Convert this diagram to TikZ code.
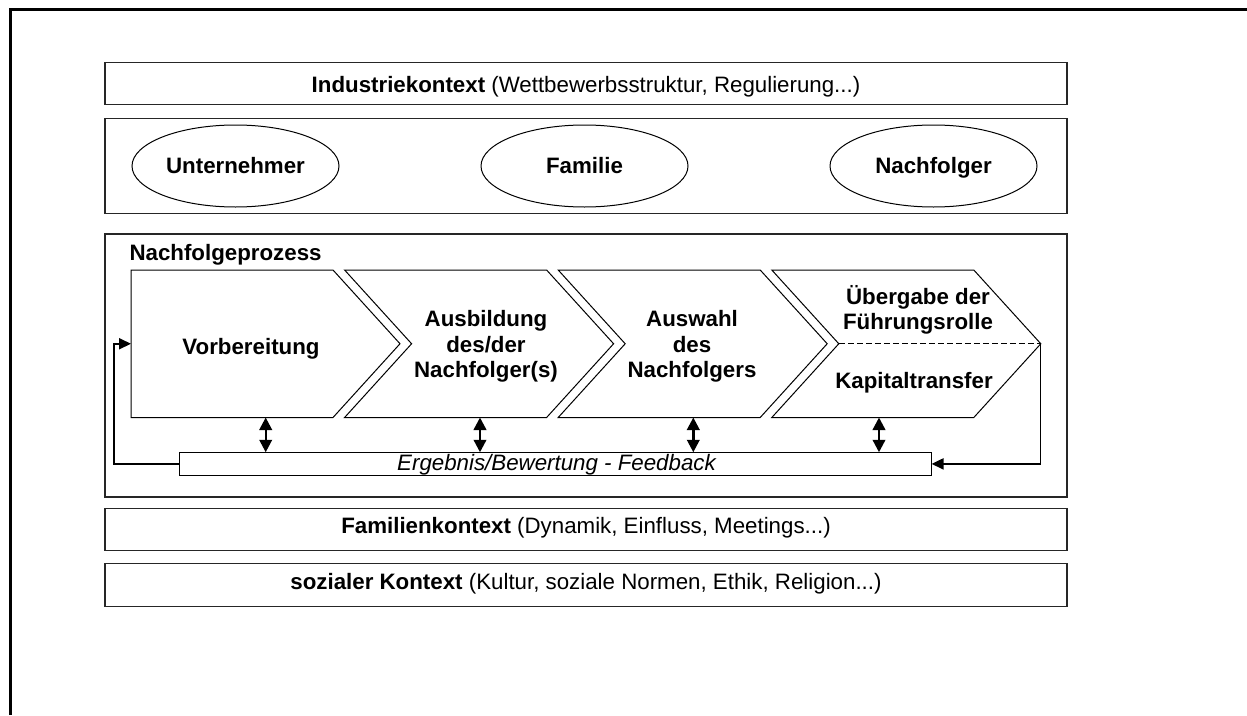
\documentclass[tikz,border=0pt]{standalone}
\usepackage{fontspec}
\setmainfont{Liberation Sans}
\usetikzlibrary{shapes.geometric,arrows.meta,calc}
\begin{document}
\begin{tikzpicture}[x=1pt,y=-1pt,
  box/.style={draw=black!85,line width=1.3pt,inner sep=0pt,minimum width=962pt},
  actor/.style={draw,ellipse,line width=1pt,minimum width=207pt,minimum height=82pt,inner sep=0pt,
    font=\fontsize{22.3}{25.6}\selectfont\bfseries,text height=16.2pt,text depth=1pt},
  lbl/.style={font=\fontsize{22.3}{25.6}\selectfont\bfseries,inner sep=0pt,anchor=base},
  mlbl/.style={font=\fontsize{22.3}{25.6}\selectfont\bfseries,inner sep=0pt,align=center},
  ctx/.style={font=\fontsize{22.3}{25.6}\selectfont,inner sep=0pt,anchor=base},
  chev/.style={draw,line width=1pt},
  dbl/.style={{Triangle[length=12.5pt,width=12.5pt]}-{Triangle[length=12.5pt,width=12.5pt]},line width=2.4pt},
  loopar/.style={-{Triangle[length=12pt,width=11pt]},line width=2pt}]
\useasboundingbox (0,0) rectangle (1247,715);
% outer frame
\draw[line width=2.7pt] (10.3,715) -- (10.3,9.3) -- (1247,9.3);

% Industriekontext
\node[box,minimum height=42pt] (ind) at (586,83.3) {};
\node[ctx] (indt) at (586,92.5) {\textbf{Industriekontext} (Wettbewerbsstruktur, Regulierung...)};

% actors
\node[box,minimum height=95pt] (act) at (586,165.8) {};
\node[actor] (unt) at (235.5,166) {Unternehmer};
\node[actor] (fam) at (584.5,166) {Familie};
\node[actor] (nach) at (933.5,166) {Nachfolger};

% process
\node[box,minimum height=263pt] (proc) at (586,365.5) {};
\node[lbl,anchor=base west] (proct) at (129.3,260) {Nachfolgeprozess};

\draw[chev] (131,270) -- (333,270) -- (400,343.75) -- (333,417.5) -- (131,417.5) -- cycle;
\draw[chev] (344.6,270) -- (546.6,270) -- (613.6,343.75) -- (546.6,417.5) -- (344.6,417.5) -- (411.6,343.75) -- cycle;
\draw[chev] (558.2,270) -- (760.2,270) -- (827.2,343.75) -- (760.2,417.5) -- (558.2,417.5) -- (625.2,343.75) -- cycle;
\draw[chev] (771.8,270) -- (973.8,270) -- (1040.8,343.75) -- (973.8,417.5) -- (771.8,417.5) -- (838.8,343.75) -- cycle;

\coordinate (in1) at (131,343.75);
\coordinate (notch4) at (838.8,343.75);
\coordinate (tip4) at (1040.8,343.75);
\draw[line width=1pt,dash pattern=on 6pt off 3pt] (notch4) -- (tip4);

\node[lbl] (t1) at (251,354) {Vorbereitung};
\node[mlbl] (t2) at (486,346.5) {Ausbildung\\des/der\\Nachfolger(s)};
\node[mlbl] (t3) at (692,346.5) {Auswahl\\des\\Nachfolgers};
\node[mlbl] (t4) at (918,310) {Übergabe der\\Führungsrolle};
\node[lbl] (t5) at (914,388.3) {Kapitaltransfer};

% feedback bar
\node[draw,line width=1pt,minimum width=751.7pt,minimum height=22.3pt,inner sep=0pt] (fb) at (555.2,463.9) {};
\node[ctx,font=\fontsize{22.3}{25.6}\selectfont\itshape] (fbt) at (556.5,470.7) {Ergebnis/Bewertung - Feedback};

\coordinate (b1) at (265.7,417.5);
\coordinate (b2) at (480,417.5);
\coordinate (b3) at (693.3,417.5);
\coordinate (b4) at (879,417.5);
\draw[dbl] (b1) -- (b1 |- fb.north);
\draw[dbl] (b2) -- (b2 |- fb.north);
\draw[dbl] (b3) -- (b3 |- fb.north);
\draw[dbl] (b4) -- (b4 |- fb.north);

\draw[loopar] (fb.west) -- ++(-65.3,0) |- (in1);
\coordinate (rc) at (tip4 |- fb.east);
\draw[line width=1pt] (tip4) -- (rc);
\draw[loopar] (rc) -- (fb.east);

% Familienkontext
\node[box,minimum height=42pt] (famk) at (586,529.2) {};
\node[ctx] (famkt) at (586,533.5) {\textbf{Familienkontext} (Dynamik, Einfluss, Meetings...)};

% sozialer Kontext
\node[box,minimum height=43.4pt] (soz) at (586,585) {};
\node[ctx] (sozt) at (586,589) {\textbf{sozialer Kontext} (Kultur, soziale Normen, Ethik, Religion...)};
\end{tikzpicture}
\end{document}
